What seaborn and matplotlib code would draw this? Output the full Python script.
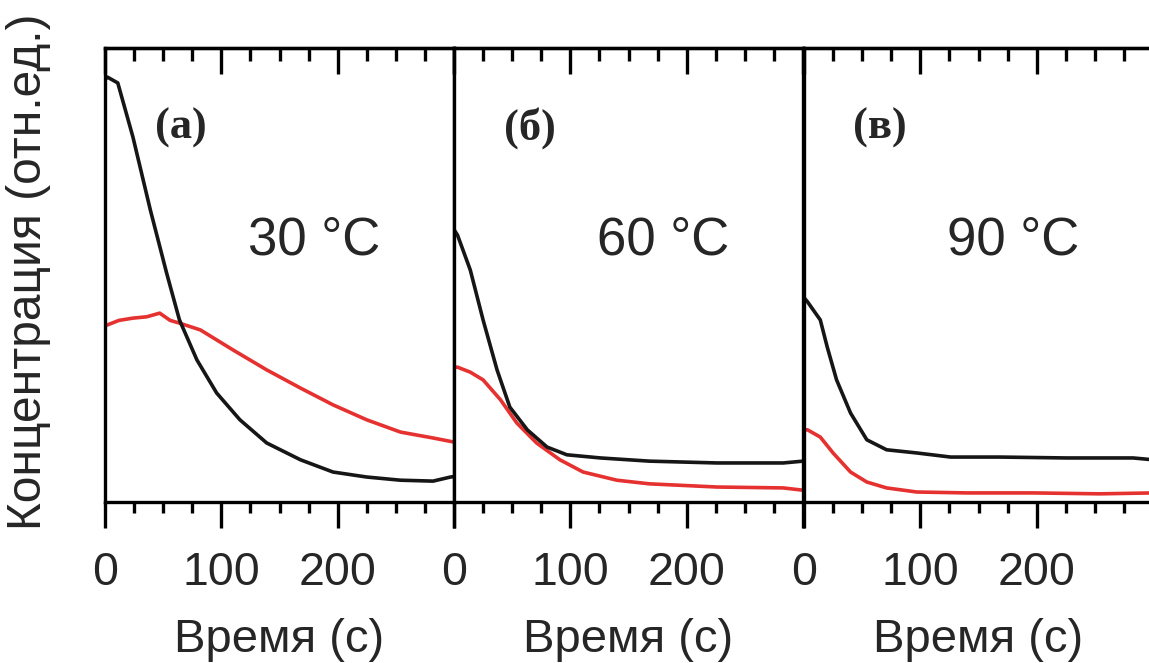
import matplotlib
matplotlib.use('Agg')
import matplotlib.pyplot as plt
import numpy as np
import pandas as pd
import seaborn as sns
from matplotlib.ticker import FixedLocator, MultipleLocator

sns.set_theme(style='ticks')
plt.rcParams['font.family'] = ['Liberation Sans', 'DejaVu Sans']

# ---------------- data ----------------
panel_letters = ['(a)', '(б)', '(в)']
temperatures = ['30 °C', '60 °C', '90 °C']
x_label = 'Время (с)'
y_label = 'Концентрация (отн.ед.)'
tick_values = [0, 100, 200, 300]
tick_labels = ['0', '100', '200', '']

time_a_black = [0, 2, 11, 24, 39, 53, 64, 79, 96, 116, 139, 168, 196, 225, 254, 282, 297, 300]
conc_a_black = [0.93, 0.936, 0.923, 0.804, 0.643, 0.504, 0.401, 0.313, 0.240, 0.181, 0.130, 0.093, 0.066, 0.055, 0.048, 0.046, 0.055, 0.056]
time_a_red = [0, 2, 12, 24, 36, 47, 56, 64, 82, 110, 139, 168, 196, 225, 254, 282, 300]
conc_a_red = [0.388, 0.390, 0.400, 0.405, 0.408, 0.416, 0.400, 0.394, 0.379, 0.335, 0.291, 0.251, 0.214, 0.181, 0.154, 0.141, 0.132]

time_b_black = [0, 3, 14, 25, 37, 48, 63, 80, 97, 126, 168, 226, 283, 300]
conc_b_black = [0.60, 0.588, 0.511, 0.401, 0.291, 0.209, 0.159, 0.121, 0.104, 0.097, 0.090, 0.086, 0.086, 0.090]
time_b_red = [0, 3, 14, 25, 40, 54, 71, 91, 111, 140, 168, 226, 283, 300]
conc_b_red = [0.297, 0.297, 0.286, 0.269, 0.225, 0.174, 0.130, 0.093, 0.066, 0.048, 0.040, 0.033, 0.031, 0.026]

time_c_black = [0, 3, 14, 20, 28, 40, 54, 71, 97, 126, 168, 226, 283, 300]
conc_c_black = [0.45, 0.441, 0.401, 0.341, 0.269, 0.196, 0.137, 0.115, 0.108, 0.099, 0.099, 0.097, 0.097, 0.093]
time_c_red = [0, 3, 14, 25, 40, 54, 71, 97, 140, 197, 254, 300]
conc_c_red = [0.159, 0.159, 0.143, 0.108, 0.066, 0.044, 0.031, 0.022, 0.020, 0.020, 0.018, 0.020]

panels = [
    (time_a_black, conc_a_black, time_a_red, conc_a_red),
    (time_b_black, conc_b_black, time_b_red, conc_b_red),
    (time_c_black, conc_c_black, time_c_red, conc_c_red),
]

# ---------------- figure ----------------
W, H = 1149, 663
fig = plt.figure(figsize=(W / 100, H / 100), dpi=100)

left_px = [105, 454, 804]
panel_w = 349
top_px, bottom_px = 48, 502

black = '#161616'
red = '#e5312f'
spine_lw = 2.4

for i, (tb, cb, tr, cr) in enumerate(panels):
    ax = fig.add_axes([left_px[i] / W, (H - bottom_px) / H,
                       panel_w / W, (bottom_px - top_px) / H])
    df_b = pd.DataFrame({'t': tb, 'c': cb})
    df_r = pd.DataFrame({'t': tr, 'c': cr})
    sns.lineplot(data=df_r, x='t', y='c', ax=ax, color=red, lw=2.6)
    sns.lineplot(data=df_b, x='t', y='c', ax=ax, color=black, lw=2.6)
    ax.set_xlim(0, 300)
    ax.set_ylim(0, 1)
    ax.set_yticks([])
    ax.set_ylabel('')
    ax.set_xlabel(x_label, fontsize=34, labelpad=17)
    ax.xaxis.set_major_locator(FixedLocator(tick_values))
    ax.set_xticklabels(tick_labels)
    ax.xaxis.set_minor_locator(MultipleLocator(25))
    ax.tick_params(axis='x', which='major', direction='out', length=19,
                   width=spine_lw, labelsize=33.5, pad=16, color='black')
    ax.tick_params(axis='x', which='minor', direction='out', length=8,
                   width=spine_lw, color='black')
    for s in ax.spines.values():
        s.set_linewidth(spine_lw)
        s.set_color('black')
        s.set_visible(True)
    # top axis with inward ticks
    sec = ax.secondary_xaxis('top')
    sec.xaxis.set_major_locator(FixedLocator(tick_values))
    sec.xaxis.set_minor_locator(MultipleLocator(25))
    sec.tick_params(axis='x', which='major', direction='in', length=19,
                    width=spine_lw, labeltop=False, color='black')
    sec.tick_params(axis='x', which='minor', direction='in', length=9.5,
                    width=spine_lw, color='black')
    sec.spines['top'].set_linewidth(spine_lw)
    ax.text(65, 0.824, panel_letters[i], ha='center', va='center',
            fontsize=32, fontweight='bold', family=['Liberation Serif', 'DejaVu Serif'])
    ax.text(180, 0.577, temperatures[i], ha='center', va='center', fontsize=38)
    if i == 0:
        ax.set_ylabel(y_label, fontsize=34.5)
        ax.yaxis.set_label_coords(-0.155, 0.507)

fig.savefig('out.png', dpi=100)
